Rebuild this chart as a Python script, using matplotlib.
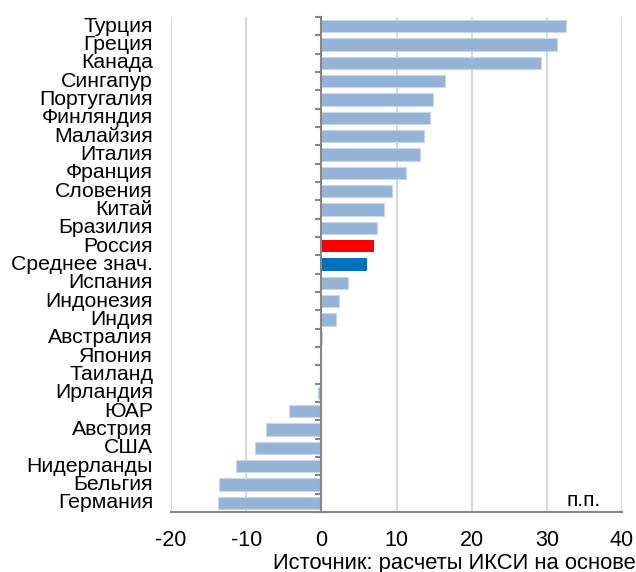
import matplotlib
matplotlib.use("Agg")
import matplotlib.pyplot as plt
import numpy as np

plt.rcParams['font.family'] = ['Liberation Sans', 'DejaVu Sans']

categories = ["Турция", "Греция", "Канада", "Сингапур", "Португалия", "Финляндия",
              "Малайзия", "Италия", "Франция", "Словения", "Китай", "Бразилия",
              "Россия", "Среднее знач.", "Испания", "Индонезия", "Индия", "Австралия",
              "Япония", "Таиланд", "Ирландия", "ЮАР", "Австрия", "США", "Нидерланды",
              "Бельгия", "Германия"]
values = [32.5, 31.3, 29.2, 16.5, 14.9, 14.4, 13.6, 13.1, 11.3, 9.4, 8.3, 7.4,
          7.0, 6.1, 3.6, 2.4, 2.0, 0.1, 0.0, 0.0, -0.5, -4.3, -7.4, -8.8, -11.3,
          -13.6, -13.7]
highlight = {"Россия": "#FF0000", "Среднее знач.": "#0070C0"}
base_color = "#95B3D7"
xticks = [-20, -10, 0, 10, 20, 30, 40]
unit_label = "п.п."
source = "Источник: расчеты ИКСИ на основе"

fig = plt.figure(figsize=(6.36, 5.72), dpi=100)
ax = fig.add_axes([171/636, 1 - 512/572, (622 - 171)/636, (512 - 17)/572])

n = len(categories)
y = np.arange(n)
colors = [highlight.get(c, base_color) for c in categories]
edges = ["none" if c in highlight else "#C8D7EA" for c in categories]
ax.barh(y, values, height=0.66, color=colors, edgecolor=edges, linewidth=0.8, zorder=3)

ax.set_xlim(-20, 40)
ax.set_ylim(n - 0.5, -0.5)
ax.set_xticks(xticks)
ax.set_xticklabels([str(t) for t in xticks], fontsize=15.5)
ax.tick_params(axis='x', length=0, pad=13)

# gridlines
for t in xticks:
    if t != 0:
        ax.axvline(t, color="#D9D9D9", linewidth=1.5, zorder=1)

for s in ['top', 'right']:
    ax.spines[s].set_visible(False)
ax.spines['bottom'].set_color("#868686")
ax.spines['bottom'].set_linewidth(1.5)
ax.spines['left'].set_position(('data', 0))
ax.spines['left'].set_color("#868686")
ax.spines['left'].set_linewidth(1.5)
ax.spines['left'].set_zorder(4)

ax.set_yticks(np.arange(n + 1) - 0.5)
ax.set_yticklabels([])
ax.tick_params(axis='y', length=4, width=1.5, color="#868686", direction='out')

trans = matplotlib.transforms.blended_transform_factory(ax.transAxes, ax.transData)
for yi, c in zip(y, categories):
    ax.text(-(171 - 153)/451, yi, c, transform=trans, ha='right', va='center',
            fontsize=15.3, color="black")

ax.text(0.916, 0.024, unit_label, transform=ax.transAxes, ha='center', va='center',
        fontsize=15, color="black")

fig.text(273/636, 0.006, source, ha='left', va='baseline', fontsize=15.8, color="black")

fig.savefig("out.png", dpi=100)
